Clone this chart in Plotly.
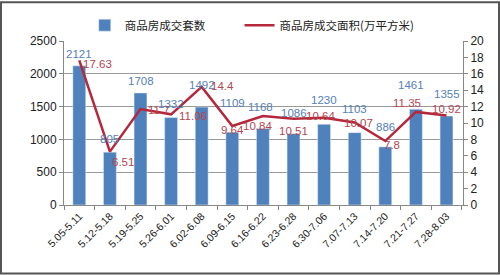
import plotly.graph_objects as go

categories = ["5.05-5.11", "5.12-5.18", "5.19-5.25", "5.26-6.01", "6.02-6.08", "6.09-6.15",
              "6.16-6.22", "6.23-6.28", "6.30-7.06", "7.07-7.13", "7.14-7.20", "7.21-7.27", "7.28-8.03"]
units = [2121, 805, 1708, 1332, 1492, 1109, 1168, 1086, 1230, 1103, 886, 1461, 1355]
area = [17.63, 6.51, 11.7, 11.06, 14.4, 9.64, 10.84, 10.51, 10.64, 10.07, 7.8, 11.35, 10.92]
area_labels = ["17.63", "6.51", "11.7", "11.06", "14.4", "9.64", "10.84", "10.51", "10.64", "10.07", "7.8", "11.35", "10.92"]

# label offsets (pixels) – styling only
bar_dy = [12, 13, 12, 14, 22, 29, 21, 21, 24, 24, 20, 24, 22]
bar_dx = [0, 0, 0, 0, 0, 0, -2, 0, 0, 0, 0, -5, 0]
line_dx = [18, 13, 18, 22, 21, 0, -5, 0, -4, 4, 7, -9, 0]
line_dy = [-4, -10, -1, -2, 1, -4, -10, -12, 2, -1, -4, 9, 6]

BLUE = "#4f81bd"
RED = "#b5283b"
FONT = "Liberation Sans"
CJK = "Noto Sans CJK SC"

fig = go.Figure()
fig.add_trace(go.Bar(x=categories, y=units, name="商品房成交套数", marker_color=BLUE,
                     width=0.42, yaxis="y", legend="legend"))
fig.add_trace(go.Scatter(x=categories, y=area, name="商品房成交面积(万平方米)", mode="lines",
                         line=dict(color=RED, width=2.5), yaxis="y2", legend="legend2"))

ann = []
for i, c in enumerate(categories):
    ann.append(dict(x=c, y=units[i], xref="x", yref="y", text=str(units[i]), showarrow=False,
                    yanchor="middle", xshift=bar_dx[i], yshift=bar_dy[i],
                    font=dict(family=FONT, size=11.5, color="#5580b8")))
    ann.append(dict(x=c, y=area[i], xref="x", yref="y2", text=area_labels[i], showarrow=False,
                    yanchor="middle", xshift=line_dx[i], yshift=line_dy[i],
                    font=dict(family=FONT, size=11.5, color="#b4474f")))

leg_common = dict(orientation="h", y=1.09, xanchor="left", yanchor="middle",
                  font=dict(family=CJK, size=11.5, color="#222"),
                  bgcolor="rgba(0,0,0,0)", itemwidth=30)

fig.update_layout(
    width=500, height=275,
    margin=dict(l=64, r=37, t=40, b=70),
    paper_bgcolor="white", plot_bgcolor="white",
    showlegend=True,
    legend=dict(x=0.052, **leg_common),
    legend2=dict(x=0.44, **leg_common),
    xaxis=dict(type="category", tickangle=-45, tickson="boundaries", ticks="outside",
               ticklen=4, tickcolor="#888", showline=True, linecolor="#888", linewidth=1,
               tickfont=dict(family=FONT, size=10.5, color="#222"), showgrid=False),
    yaxis=dict(range=[0, 2500], dtick=500, showgrid=True, gridcolor="#999", gridwidth=1,
               showline=True, linecolor="#888", ticks="outside", ticklen=4, tickcolor="#888",
               tickfont=dict(family=FONT, size=12, color="#222"), zeroline=False),
    yaxis2=dict(range=[0, 20], dtick=2, overlaying="y", side="right", showgrid=False,
                showline=True, linecolor="#888", ticks="outside", ticklen=4, tickcolor="#888",
                tickfont=dict(family=FONT, size=12, color="#222"), zeroline=False),
    annotations=ann,
    shapes=[dict(type="rect", xref="paper", yref="paper",
                 x0=(1 - 64) / 399, x1=(499 - 64) / 399,
                 y0=(205 - 274) / 165, y1=(205 - 1) / 165,
                 line=dict(color="#555", width=2))],
)

fig.write_html("out.html")
